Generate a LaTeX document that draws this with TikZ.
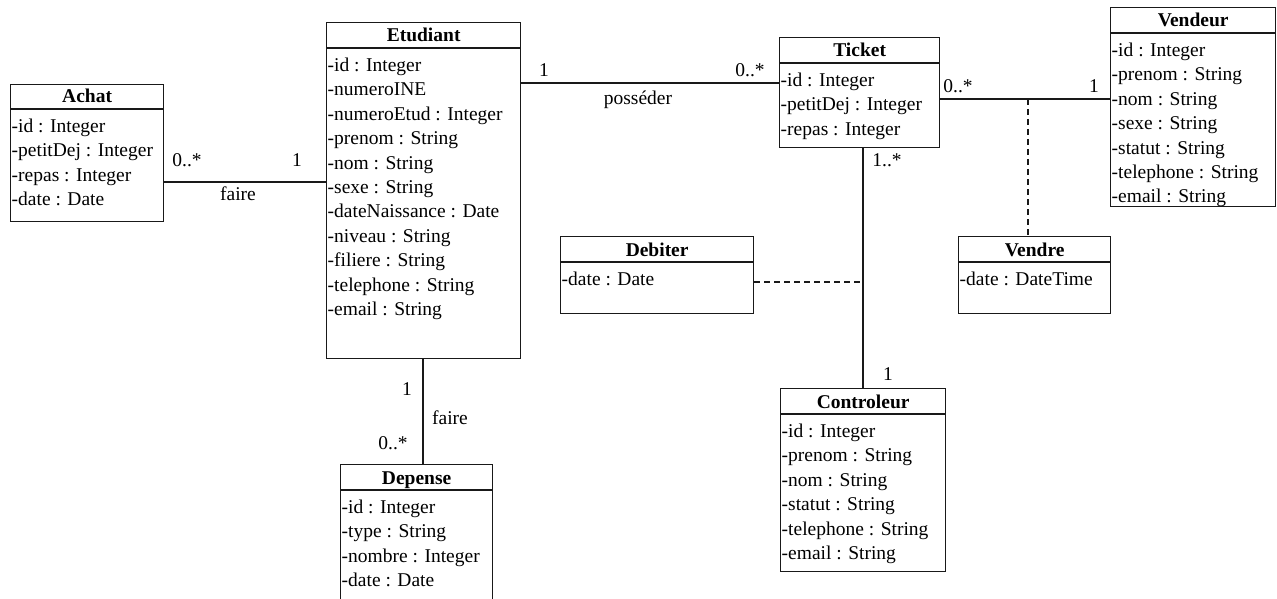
\documentclass[tikz,border=0pt]{standalone}
\usepackage{fontspec}
\setmainfont{Liberation Serif}
\usetikzlibrary{calc}

\newcommand{\diagfont}{\fontsize{19.5}{24}\selectfont}

\tikzset{
  classbox/.style={draw=black!90, line width=1.3pt, rectangle, inner sep=0pt, fill=white},
  classline/.style={draw=black!90, line width=1.3pt},
  classtitle/.style={font=\diagfont\bfseries, inner sep=0pt},
  attr/.style={font=\diagfont, inner sep=0pt},
  assoc/.style={draw=black!90, line width=1.3pt},
  assocdash/.style={draw=black!90, line width=1.1pt, dash pattern=on 6pt off 4pt},
  mult/.style={font=\diagfont, inner sep=0pt, anchor=base},
}

% #1 name, #2 x, #3 y, #4 width, #5 height, #6 title band, #7 title, #8 attributes
\newcommand{\umlclass}[8]{%
  \node[classbox, minimum width=#4pt, minimum height=#5pt, anchor=north west] (#1) at (#2,#3) {};
  \draw[classline] ($(#1.north west)+(0,#6)$) -- ($(#1.north east)+(0,#6)$);
  \node[classtitle, anchor=base] (#1-t) at ($(#1.north)+(0,#6-6)$) {#7};
  \foreach \a [count=\i] in {#8} {
    \node[attr, anchor=base west] (#1-\i) at ($(#1.north west)+(1.5,#6+23.5+24.4*\i-24.4)$) {\a};
  }%
}

\begin{document}
\begin{tikzpicture}[x=1pt, y=-1pt]
\useasboundingbox (0,0) rectangle (1277,599);
\clip (0,0) rectangle (1277,599);
\fill[white] (0,0) rectangle (1277,599);

% attachment points of the connectors
\coordinate (ae) at (163,182);
\coordinate (et) at (520,83);
\coordinate (tv) at (939,99);
\coordinate (tc) at (863,147);
\coordinate (ed) at (423,358);
\coordinate (dj) at (863,282);
\coordinate (vj) at (1028,99);

\umlclass{achat}{10}{84}{153}{137}{25}{Achat}{-id : Integer,-petitDej : Integer,-repas : Integer,-date : Date}
\umlclass{etud}{326}{22}{194}{336}{26}{Etudiant}{-id : Integer,-numeroINE,-numeroEtud : Integer,-prenom : String,-nom : String,-sexe : String,-dateNaissance : Date,-niveau : String,-filiere : String,-telephone : String,-email : String}
\umlclass{ticket}{779}{37}{160}{110}{26}{Ticket}{-id : Integer,-petitDej : Integer,-repas : Integer}
\umlclass{vendeur}{1110}{7}{165}{199}{26}{Vendeur}{-id : Integer,-prenom : String,-nom : String,-sexe : String,-statut : String,-telephone : String,-email : String}
\umlclass{debiter}{560}{236}{193}{77}{26}{Debiter}{-date : Date}
\umlclass{vendre}{958}{236}{152}{77}{26}{Vendre}{-date : DateTime}
\umlclass{ctrl}{780}{388}{165}{183}{26}{Controleur}{-id : Integer,-prenom : String,-nom : String,-statut : String,-telephone : String,-email : String}
\umlclass{depense}{340}{464}{152}{150}{26}{Depense}{-id : Integer,-type : String,-nombre : Integer,-date : Date}

% associations
\draw[assoc] (achat.east |- ae) -- (etud.west |- ae);
\draw[assoc] (etud.east |- et) -- (ticket.west |- et);
\draw[assoc] (ticket.east |- tv) -- (vendeur.west |- tv);
\draw[assoc] (ticket.south -| tc) -- (ctrl.north -| tc);
\draw[assoc] (etud.south -| ed) -- (depense.north -| ed);

% association classes
\draw[assocdash] (debiter.east |- dj) -- (dj);
\draw[assocdash] (vj) -- (vendre.north -| vj);

% multiplicities and role names
\node[mult] (m1) at (187,166) {0..*};
\node[mult] (m2) at (297,166) {1};
\node[mult] (r1) at (238,200) {faire};
\node[mult] (m3) at (544,77) {1};
\node[mult] (m4) at (750,77) {0..*};
\node[mult] (r2) at (638,105) {posséder};
\node[mult] (m5) at (958,93) {0..*};
\node[mult] (m6) at (1094,93) {1};
\node[mult] (m7) at (887,167) {1..*};
\node[mult] (m8) at (888,380) {1};
\node[mult] (m9) at (407,395) {1};
\node[mult] (r3) at (450,424) {faire};
\node[mult] (m10) at (393,449) {0..*};
\end{tikzpicture}
\end{document}
